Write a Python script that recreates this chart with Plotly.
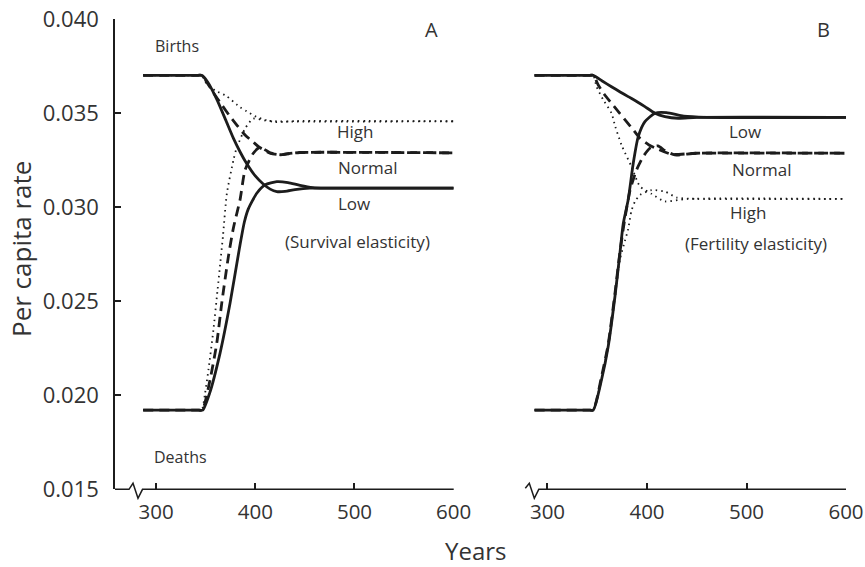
import plotly.graph_objects as go

# ---------------- data ----------------
# Panel A (survival elasticity)
a_low_births_x = [287, 340, 346, 352, 361, 370, 378, 385, 391, 400, 408, 415, 421.7, 430, 440, 455, 470, 600]
a_low_births_y = [0.0370, 0.0370, 0.0370, 0.03665, 0.03575, 0.03465, 0.03365, 0.03290, 0.03234, 0.03165, 0.03122, 0.03095, 0.03082, 0.03083, 0.03092, 0.03100, 0.03100, 0.03100]
a_low_deaths_x = [287, 342, 347, 354, 364.5, 374.6, 384, 389, 393, 401.5, 410, 421.7, 433, 445, 458, 470, 600]
a_low_deaths_y = [0.0192, 0.0192, 0.0192, 0.0201, 0.02223, 0.02489, 0.0278, 0.0292, 0.0299, 0.03073, 0.03118, 0.03135, 0.03130, 0.03115, 0.03103, 0.03100, 0.03100]

a_norm_births_x = [287, 340, 346, 351, 357.5, 366, 374.6, 382, 389.7, 398, 404, 415, 425, 435, 445, 600]
a_norm_births_y = [0.0370, 0.0370, 0.0370, 0.03665, 0.0361, 0.03545, 0.03481, 0.03432, 0.03383, 0.03345, 0.03318, 0.03286, 0.03278, 0.03285, 0.03290, 0.03288]
a_norm_deaths_x = [287, 341, 346.5, 354.4, 361.2, 366.2, 373, 378, 384.7, 389.7, 398, 404.8, 415, 425, 435, 445, 600]
a_norm_deaths_y = [0.0192, 0.0192, 0.0192, 0.02081, 0.02276, 0.02489, 0.0274, 0.0289, 0.0304, 0.03197, 0.03286, 0.03318, 0.03288, 0.03278, 0.03285, 0.03290, 0.03288]

a_high_births_x = [287, 340, 346, 351, 359.5, 371, 384.7, 391, 401, 411, 420, 440, 600]
a_high_births_y = [0.0370, 0.0370, 0.0370, 0.03655, 0.0362, 0.0359, 0.0353, 0.0351, 0.0348, 0.03462, 0.03452, 0.03457, 0.03456]
a_high_deaths_x = [287, 341, 346, 349.4, 352.8, 357.8, 362, 367.5, 371.3, 378, 381, 390, 398, 410, 425, 600]
a_high_deaths_y = [0.0192, 0.0192, 0.0192, 0.0201, 0.02134, 0.02347, 0.0256, 0.0285, 0.0307, 0.0325, 0.0331, 0.0342, 0.0347, 0.0346, 0.03455, 0.03456]

# Panel B (fertility elasticity)
b_low_births_x = [287, 340, 346, 355, 364.3, 373, 381.1, 390, 397.9, 408, 418, 431.4, 450, 600]
b_low_births_y = [0.0370, 0.0370, 0.0370, 0.03670, 0.0364, 0.03612, 0.03587, 0.03560, 0.03534, 0.03499, 0.03481, 0.03472, 0.03477, 0.03477]
b_low_deaths_x = [287, 341, 346, 354.3, 361, 367.8, 372.8, 376.1, 381.1, 386.2, 391.2, 397.9, 408, 419.6, 437, 460, 600]
b_low_deaths_y = [0.0192, 0.0192, 0.0192, 0.02081, 0.02258, 0.02524, 0.02755, 0.0291, 0.03038, 0.03233, 0.03374, 0.03454, 0.03499, 0.03502, 0.03483, 0.03477, 0.03477]

b_norm_births_x = [287, 340, 346, 351, 357, 364.3, 372, 379.4, 386, 392.9, 402, 410, 425, 450, 600]
b_norm_births_y = [0.0370, 0.0370, 0.0370, 0.03649, 0.03600, 0.03552, 0.03502, 0.03454, 0.03412, 0.03366, 0.03330, 0.03310, 0.03280, 0.03286, 0.03286]
b_norm_deaths_x = [287, 341, 346, 354, 361, 367.8, 372.8, 377.8, 383, 389.5, 396.2, 403, 411, 418, 428, 450, 600]
b_norm_deaths_y = [0.0192, 0.0192, 0.0192, 0.0209, 0.0227, 0.0254, 0.0276, 0.0294, 0.0309, 0.03197, 0.03268, 0.03313, 0.03325, 0.03300, 0.03277, 0.03286, 0.03286]

b_high_births_x = [287, 340, 346, 349.3, 356, 364.3, 368, 374.4, 384.4, 392.9, 404.6, 418, 440, 600]
b_high_births_y = [0.0370, 0.0370, 0.0370, 0.0364, 0.0357, 0.0350, 0.0343, 0.0333, 0.03215, 0.0311, 0.0307, 0.0303, 0.03043, 0.03043]
b_high_deaths_x = [287, 341, 346, 354, 361, 367.8, 372.8, 377.8, 381, 384.4, 388, 392.9, 404.6, 418, 430, 450, 600]
b_high_deaths_y = [0.0192, 0.0192, 0.0192, 0.0208, 0.0226, 0.0252, 0.0272, 0.0282, 0.0288, 0.0298, 0.0303, 0.03064, 0.0309, 0.03082, 0.0305, 0.03043, 0.03043]

x_ticks = [300, 400, 500, 600]
y_ticks = [0.015, 0.020, 0.025, 0.030, 0.035, 0.040]
y_tick_text = ["0.015", "0.020", "0.025", "0.030", "0.035", "0.040"]

# ---------------- figure ----------------
W, H = 865, 567
ML, MR, MT, MB = 0, 0, 19, 78
INK = "#1c1c1c"
TXT = "#333333"
FONT = "Open Sans"
B_RIGHT = 846.0

def px(x):
    return x / W

def py(y):
    return (H - MB - y) / (H - MT - MB)

solid = dict(color=INK, width=2.8)
dashed = dict(color=INK, width=2.8, dash="10px,6px")
dotted = dict(color=INK, width=1.8, dash="1.5px,4px")

fig = go.Figure()
series = [
    ("x", a_high_births_x, a_high_births_y, dotted),
    ("x", a_high_deaths_x, a_high_deaths_y, dotted),
    ("x", a_norm_births_x, a_norm_births_y, dashed),
    ("x", a_norm_deaths_x, a_norm_deaths_y, dashed),
    ("x", a_low_births_x, a_low_births_y, solid),
    ("x", a_low_deaths_x, a_low_deaths_y, solid),
    ("x2", b_high_births_x, b_high_births_y, dotted),
    ("x2", b_high_deaths_x, b_high_deaths_y, dotted),
    ("x2", b_norm_births_x, b_norm_births_y, dashed),
    ("x2", b_norm_deaths_x, b_norm_deaths_y, dashed),
    ("x2", b_low_births_x, b_low_births_y, solid),
    ("x2", b_low_deaths_x, b_low_deaths_y, solid),
]
for xa, xs, ys, ln in series:
    fig.add_trace(go.Scatter(x=xs, y=ys, mode="lines", xaxis=xa, yaxis="y",
                             line=dict(shape="spline", smoothing=0.6, **ln),
                             showlegend=False, hoverinfo="skip"))

xcommon = dict(range=[258.6, 600], tickvals=x_ticks, ticks="inside", ticklen=6,
               tickwidth=1.5, tickcolor=INK, showline=False, showgrid=False,
               zeroline=False, tickfont=dict(family=FONT, size=20.5, color=TXT),
               ticklabelstandoff=8, anchor="y", automargin=False,
               ticklabeloverflow="allow")
fig.update_layout(
    width=W, height=H, margin=dict(l=ML, r=MR, t=MT, b=MB, autoexpand=False),
    paper_bgcolor="white", plot_bgcolor="white",
    xaxis=dict(domain=[115 / W, 453.7 / W], **xcommon),
    xaxis2=dict(domain=[(B_RIGHT - 339.7) / W, B_RIGHT / W], **xcommon),
    yaxis=dict(domain=[0, 1], range=[0.015, 0.040], tickvals=y_ticks, ticktext=y_tick_text,
               ticks="inside", ticklen=6, tickwidth=1.5, tickcolor=INK,
               showline=True, linecolor=INK, linewidth=1.5, showgrid=False, zeroline=False,
               tickfont=dict(family=FONT, size=22, color=TXT), ticklabelstandoff=10,
               anchor="x", automargin=False, ticklabeloverflow="allow"),
)

# x-axis baselines with break marks
yb = 489.3
def path(points):
    return "M " + " L ".join(f"{px(x):.5f},{py(y):.5f}" for x, y in points)

sb = B_RIGHT - 847.7
axis_a = [(115, yb), (129, yb), (133, yb - 6), (138, yb + 9), (142.5, yb), (453.7, yb)]
axis_b = [(527 + sb, yb - 1), (531 + sb, yb - 6), (536 + sb, yb + 9), (540.5 + sb, yb), (B_RIGHT, yb)]
for pts in (axis_a, axis_b):
    fig.add_shape(type="path", path=path(pts), xref="paper", yref="paper",
                  line=dict(color=INK, width=1.5))

def note(x, y, text, size=17, **kw):
    fig.add_annotation(x=px(x), y=py(y), xref="paper", yref="paper", text=text,
                       showarrow=False, font=dict(family=FONT, size=size, color=TXT),
                       xanchor="center", yanchor="middle", **kw)

note(177, 46, "Births", size=16)
note(180, 457, "Deaths", size=16)
note(431, 29, "A", size=20)
note(823, 29, "B", size=20)
note(355, 131, "High")
note(367, 168, "Normal")
note(354, 203, "Low")
note(357, 242, "(Survival elasticity)")
note(745, 131, "Low")
note(761, 170, "Normal")
note(748, 212, "High")
note(756, 243, "(Fertility elasticity)")
note(475, 550, "Years", size=24)
note(21, 249, "Per capita rate", size=26, textangle=-90)

fig.write_html("out.html", config={"displayModeBar": False},
               post_script="document.body.style.margin='0';document.body.style.overflow='hidden';")
